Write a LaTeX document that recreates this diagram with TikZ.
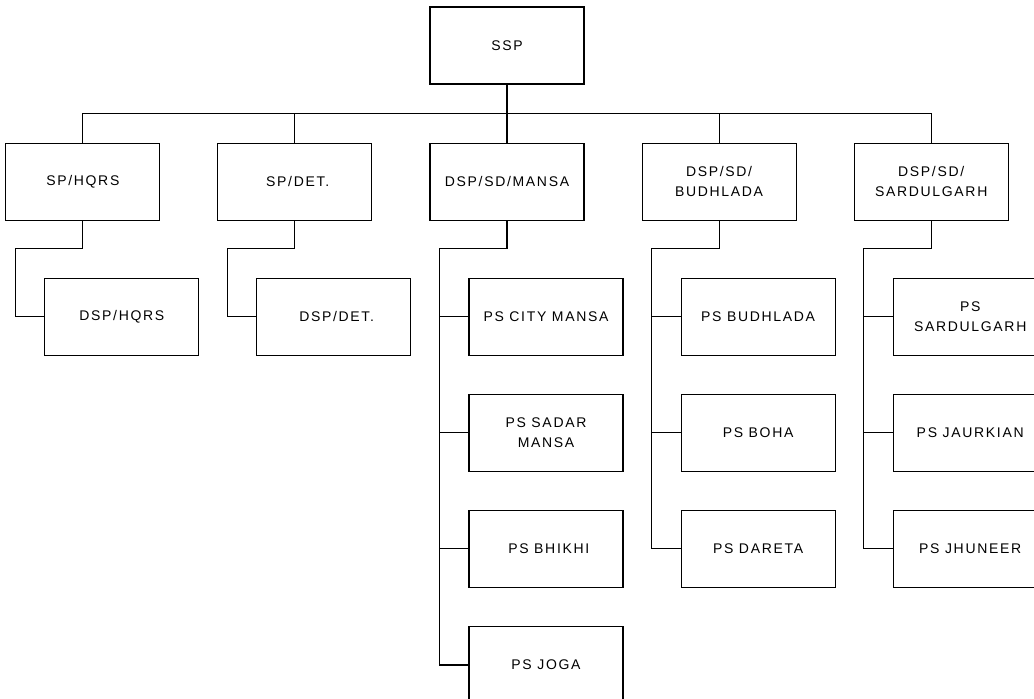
\documentclass[tikz,border=0pt]{standalone}
\usepackage{fontspec}
\setmainfont{Liberation Sans}[LetterSpace=12]
\usetikzlibrary{positioning}

\begin{document}
\begin{tikzpicture}[
        x=1pt, y=1pt,
        font=\fontsize{14}{19.5}\selectfont,
        node distance=38pt and 57pt,
        unit/.style={draw=black, line width=1.1pt, minimum width=154pt, minimum height=77pt, align=center, inner sep=2pt},
        link/.style={draw=black, line width=1.1pt}
    ]
    \path[use as bounding box, clip] (0,0) rectangle (1034,-699);

    % Top
    \node[unit] (ssp) at (507,-45.5) {SSP};

    % Second row
    \node[unit, below=58pt of ssp] (sdmansa) {DSP/SD/MANSA};
    \node[unit, left=of sdmansa] (spdet) {\ SP/DET.};
    \node[unit, left=of spdet] (sphqrs) {SP/HQRS};
    \node[unit, right=of sdmansa] (sdbudhlada) {DSP/SD/\\BUDHLADA};
    \node[unit, right=of sdbudhlada] (sdsardulgarh) {DSP/SD/\\SARDULGARH};

    % Under SP/HQRS and SP/DET.
    \node[unit, below=57pt of sphqrs, xshift=39pt] (dsphqrs) {DSP/HQRS};
    \node[unit, below=57pt of spdet, xshift=39pt] (dspdet) {\ DSP/DET.};

    % Police stations, Mansa
    \node[unit, below=57pt of sdmansa, xshift=39pt] (citymansa) {PS CITY MANSA};
    \node[unit, below=of citymansa] (sadarmansa) {PS SADAR\\MANSA};
    \node[unit, below=of sadarmansa] (bhikhi) {\ PS BHIKHI};
    \node[unit, below=of bhikhi] (joga) {PS JOGA};

    % Police stations, Budhlada
    \node[unit, below=57pt of sdbudhlada, xshift=39pt] (psbudhlada) {PS BUDHLADA};
    \node[unit, below=of psbudhlada] (boha) {PS BOHA};
    \node[unit, below=of boha] (dareta) {PS DARETA};

    % Police stations, Sardulgarh
    \node[unit, below=57pt of sdsardulgarh, xshift=39pt] (pssardulgarh) {PS\\SARDULGARH};
    \node[unit, below=of pssardulgarh] (jaurkian) {PS JAURKIAN};
    \node[unit, below=of jaurkian] (jhuneer) {PS JHUNEER};

    % Bus from SSP
    \draw[link] (ssp) -- (sdmansa);
    \draw[link] (sphqrs.north) -- ++(0,29) -| (sdsardulgarh.north);
    \draw[link] (spdet.north) -- ++(0,29);
    \draw[link] (sdbudhlada.north) -- ++(0,29);

    % Trunks down to the last box of each column
    \foreach \top/\last in {sphqrs/dsphqrs, spdet/dspdet, sdmansa/joga, sdbudhlada/dareta, sdsardulgarh/jhuneer}
        \draw[link] (\top.south) -- ++(0,-28) -| ([xshift=-29pt]\last.west) -- (\last.west);
    \foreach \n in {citymansa, sadarmansa, bhikhi, psbudhlada, boha, pssardulgarh, jaurkian}
        \draw[link] (\n.west) -- ++(-29,0);

\end{tikzpicture}
\end{document}
